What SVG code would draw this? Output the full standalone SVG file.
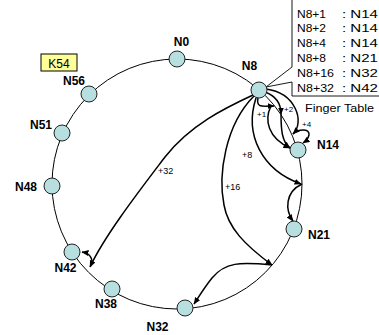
<svg xmlns="http://www.w3.org/2000/svg" width="379" height="335" viewBox="0 0 379 335">
<style>
.ring{fill:none;stroke:#000;stroke-width:1}
.node{fill:#b7dfe0;stroke:#222;stroke-width:1}
.lbl{font-family:"Liberation Sans",Arial,sans-serif;font-weight:bold;font-size:12px;fill:#000}
.ft{font-family:"Liberation Sans",Arial,sans-serif;font-size:10.5px;fill:#000}
.small{font-family:"Liberation Sans",Arial,sans-serif;font-size:8px;fill:#000}
.mid{font-family:"Liberation Sans",Arial,sans-serif;font-size:9px;fill:#000}
.arr{fill:none;stroke:#000;stroke-width:1.5;marker-end:url(#ah)}
</style>
<defs>
<marker id="ah" markerUnits="userSpaceOnUse" markerWidth="7" markerHeight="6" refX="6.5" refY="3" orient="auto">
<path d="M0,0 L7,3 L0,6 z" fill="#000"/>
</marker>
</defs>
<rect width="379" height="335" fill="#fff"/>
<circle class="ring" cx="177" cy="184" r="125"/>
<g id="fingertable">
<path d="M292,-1 L292,67 L266,87 L292,82 L292,96 L381,96 L381,-1" fill="#fff" stroke="#000" stroke-width="0.9"/>
<text class="ft" x="297" y="17.5" textLength="29" lengthAdjust="spacingAndGlyphs">N8+1</text>
<text class="ft" x="342" y="17.5" textLength="36" lengthAdjust="spacingAndGlyphs">: N14</text>
<text class="ft" x="297" y="32.3" textLength="29" lengthAdjust="spacingAndGlyphs">N8+2</text>
<text class="ft" x="342" y="32.3" textLength="36" lengthAdjust="spacingAndGlyphs">: N14</text>
<text class="ft" x="297" y="47.1" textLength="29" lengthAdjust="spacingAndGlyphs">N8+4</text>
<text class="ft" x="342" y="47.1" textLength="36" lengthAdjust="spacingAndGlyphs">: N14</text>
<text class="ft" x="297" y="61.9" textLength="29" lengthAdjust="spacingAndGlyphs">N8+8</text>
<text class="ft" x="342" y="61.9" textLength="36" lengthAdjust="spacingAndGlyphs">: N21</text>
<text class="ft" x="297" y="76.7" textLength="37" lengthAdjust="spacingAndGlyphs">N8+16</text>
<text class="ft" x="342" y="76.7" textLength="36" lengthAdjust="spacingAndGlyphs">: N32</text>
<text class="ft" x="297" y="91.5" textLength="37" lengthAdjust="spacingAndGlyphs">N8+32</text>
<text class="ft" x="342" y="91.5" textLength="36" lengthAdjust="spacingAndGlyphs">: N42</text>
<text class="ft" x="305" y="112" textLength="69" lengthAdjust="spacingAndGlyphs">Finger Table</text>
</g>
<g id="connectors">
<path class="arr" d="M258,98 C256,108 262,106 274,106"/>
<path class="arr" d="M271,106 C264,120 268,138 290,148"/>
<path class="arr" d="M265,92 C276,96 281,104 281,114"/>
<path class="arr" d="M281,114 C281,130 282,142 290,148"/>
<path class="arr" d="M266,89 C296,93 305,122 293,134"/>
<path class="arr" d="M293,134 C298,129 310,128 309,135 C308,139 306,141 303,143"/>
<path class="arr" d="M256,98 C244,135 262,170 301,184"/>
<path class="arr" d="M302,184 C285,192 285,210 293,221"/>
<path class="arr" d="M254,96 C225,125 218,175 224,205 C228,228 245,245 272,265"/>
<path class="arr" d="M272,265 C240,262 225,262 212,278 C204,288 198,298 194,304"/>
<path class="arr" d="M253,95 C225,108 190,125 165,157 C140,190 105,235 90,267"/>
<path class="arr" d="M91,266 C94,258 89,253 82,252"/>
<text class="small" x="257" y="117">+1</text>
<text class="small" x="284" y="112">+2</text>
<text class="small" x="302" y="127">+4</text>
<text class="mid" x="242" y="158">+8</text>
<text class="mid" x="225" y="190">+16</text>
<text class="mid" x="158" y="174">+32</text>
</g>
<g id="K54">
<rect x="41" y="54" width="36" height="17" fill="#ffff99" stroke="#000" stroke-width="1"/>
<text x="59" y="67.5" text-anchor="middle" font-family="'Liberation Sans',Arial,sans-serif" font-size="12">K54</text>
</g>
<g id="N0"><circle class="node" cx="177" cy="59" r="8"/><text class="lbl" x="181.5" y="46" text-anchor="middle">N0</text></g>
<g id="N8"><circle class="node" cx="259" cy="90" r="8"/><text class="lbl" x="249.5" y="70" text-anchor="middle">N8</text></g>
<g id="N14"><circle class="node" cx="298" cy="150" r="8"/><text class="lbl" x="317" y="149">N14</text></g>
<g id="N21"><circle class="node" cx="294" cy="229" r="8"/><text class="lbl" x="308" y="239">N21</text></g>
<g id="N32"><circle class="node" cx="185" cy="308" r="8"/><text class="lbl" x="157.5" y="331" text-anchor="middle">N32</text></g>
<g id="N38"><circle class="node" cx="112" cy="289" r="8"/><text class="lbl" x="106" y="308" text-anchor="middle">N38</text></g>
<g id="N42"><circle class="node" cx="72" cy="252" r="8"/><text class="lbl" x="65.5" y="272" text-anchor="middle">N42</text></g>
<g id="N48"><circle class="node" cx="52" cy="186" r="8"/><text class="lbl" x="37" y="191" text-anchor="end">N48</text></g>
<g id="N51"><circle class="node" cx="62" cy="133" r="8"/><text class="lbl" x="52" y="129" text-anchor="end">N51</text></g>
<g id="N56"><circle class="node" cx="89" cy="94" r="8"/><text class="lbl" x="74" y="85" text-anchor="middle">N56</text></g>
</svg>
